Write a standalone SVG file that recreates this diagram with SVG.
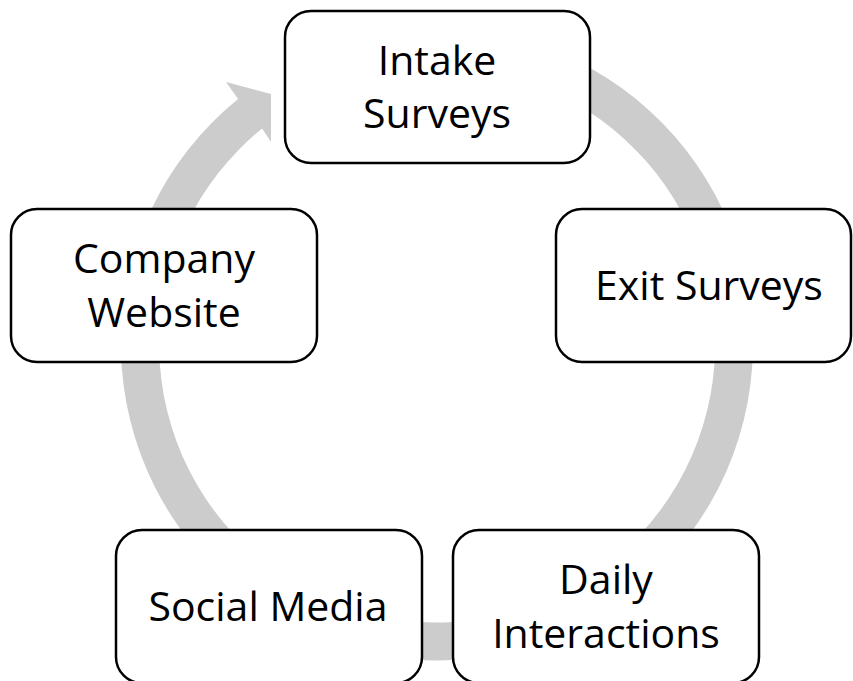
<svg xmlns="http://www.w3.org/2000/svg" width="853" height="681" viewBox="0 0 853 681">
  <style>
    .node rect { fill: #ffffff; stroke: #000000; stroke-width: 2.5; }
    .node text { font-family: "Open Sans", "Liberation Sans", sans-serif; font-size: 41px; fill: #000000; text-anchor: middle; }
    .ring { fill: #cccccc; stroke: none; }
  </style>
  <rect width="853" height="681" fill="#ffffff"/>

  <!-- Continuous circular arrow behind the nodes, centre (437, 344.5) -->
  <g id="connectors">
    <path class="ring" d="M 491.9 33.3 A 316 316 0 1 1 238.1 98.9 L 226 82 L 271 94 L 271 142 L 262.1 128.5 A 278 278 0 1 0 485.3 70.7 Z"/>
  </g>

  <g id="node-intake" class="node">
    <rect x="285" y="11" width="305" height="152" rx="26" ry="26"/>
    <text x="437" y="75">Intake</text>
    <text x="437" y="128">Surveys</text>
  </g>

  <g id="node-exit" class="node">
    <rect x="556" y="209" width="295" height="153" rx="26" ry="26"/>
    <text x="709" y="300">Exit Surveys</text>
  </g>

  <g id="node-daily" class="node">
    <rect x="453" y="530" width="306" height="153" rx="26" ry="26"/>
    <text x="606" y="593.5">Daily</text>
    <text x="606" y="647.5">Interactions</text>
  </g>

  <g id="node-social" class="node">
    <rect x="116" y="530" width="306" height="153" rx="26" ry="26"/>
    <text x="268" y="620.5">Social Media</text>
  </g>

  <g id="node-website" class="node">
    <rect x="11" y="209" width="306" height="153" rx="26" ry="26"/>
    <text x="164" y="273">Company</text>
    <text x="164" y="327">Website</text>
  </g>
</svg>
